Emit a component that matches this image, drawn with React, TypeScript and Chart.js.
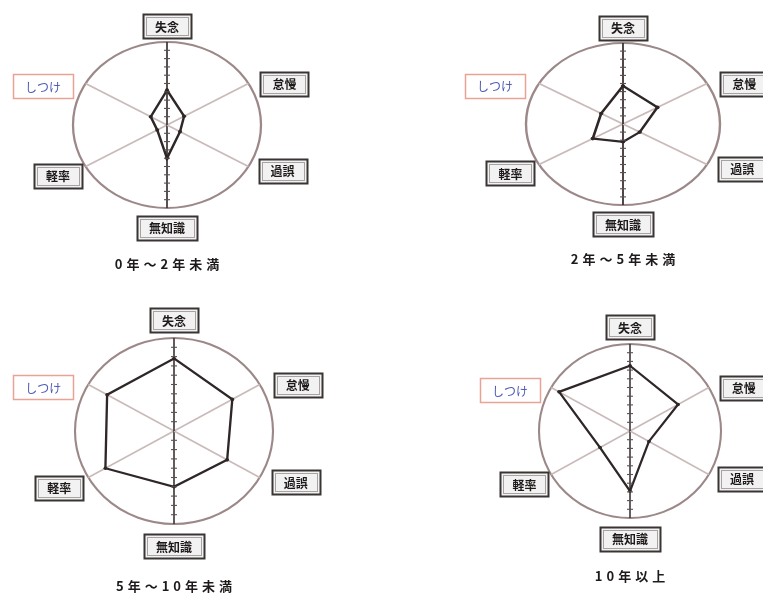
import React, { useEffect, useRef } from 'react';
import { Chart, registerables } from 'chart.js';

Chart.register(...registerables);

// ---- data ----
const categories = ['失念', '怠慢', '過誤', '無知識', '軽率', 'しつけ'];
const panelTitles = ['0年～2年未満', '2年～5年未満', '5年～10年未満', '10年以上'];
const values0to2 = [4.2, 2.1, 1.6, 4.0, 1.2, 2.0];
const values2to5 = [4.7, 4.1, 2.0, 2.2, 3.6, 2.6];
const values5to10 = [7.8, 6.8, 6.2, 6.0, 8.0, 7.8];
const values10plus = [7.5, 6.1, 2.4, 6.9, 3.8, 9.0];
const scaleMax = 10;
const tickStep = 1;
const highlightedCategory = 'しつけ';

// ---- layout (page px) ----
const W = 763;
const H = 593;
const PANELS = [
  { values: values0to2, title: panelTitles[0], cx: 167, cy: 125, ry: 83, rx: 94 },
  { values: values2to5, title: panelTitles[1], cx: 623, cy: 124, ry: 81, rx: 97 },
  { values: values5to10, title: panelTitles[2], cx: 174, cy: 431, ry: 93, rx: 99 },
  { values: values10plus, title: panelTitles[3], cx: 630, cy: 431, ry: 87, rx: 91 },
];
// label box centres, in units of the ellipse radii
const LABEL_OFFSETS: [number, number][] = [
  [0, -1.19],
  [1.25, -0.5],
  [1.23, 0.55],
  [0, 1.24],
  [-1.16, 0.61],
  [-1.32, -0.47],
];
const TITLE_OFFSET = 1.67;

const FONT = '"Noto Sans CJK JP", "Noto Sans", sans-serif';

const ellipsePlugin = {
  id: 'ellipse',
  beforeDraw(chart: any, _args: any, opts: any) {
    const sc = chart.scales.r;
    const ctx = chart.ctx;
    ctx.save();
    ctx.translate(sc.xCenter, 0);
    ctx.scale(opts.stretch, 1);
    ctx.translate(-sc.xCenter, 0);
  },
  afterDraw(chart: any, _args: any, opts: any) {
    const ctx = chart.ctx;
    ctx.restore();
    const sc = chart.scales.r;
    const cx = sc.xCenter;
    const cy = sc.yCenter;
    const ry = sc.drawingArea;
    const rx = ry * opts.stretch;

    // tick dashes along the vertical axis
    ctx.save();
    ctx.strokeStyle = '#5a5050';
    ctx.lineWidth = 1.1;
    for (let v = tickStep; v < scaleMax; v += tickStep) {
      const d = sc.getDistanceFromCenterForValue(v);
      for (const sgn of [-1, 1]) {
        ctx.beginPath();
        ctx.moveTo(cx - 3, cy + sgn * d);
        ctx.lineTo(cx + 3, cy + sgn * d);
        ctx.stroke();
      }
    }
    ctx.restore();

    // category label boxes
    const labels: string[] = chart.data.labels;
    labels.forEach((lab, i) => {
      const [nx, ny] = LABEL_OFFSETS[i];
      const x = cx + nx * rx;
      const y = cy + ny * ry;
      const hl = lab === highlightedCategory;
      ctx.save();
      ctx.font = (hl ? '' : 'bold ') + '12px ' + FONT;
      const tw = ctx.measureText(lab).width;
      const bw = tw + 24;
      const bh = 24;
      const bx = Math.round(x - bw / 2) + 0.5;
      const by = Math.round(y - bh / 2) + 0.5;
      if (hl) {
        ctx.fillStyle = '#ffffff';
        ctx.fillRect(bx, by, bw, bh);
        ctx.strokeStyle = '#e7a394';
        ctx.lineWidth = 1.5;
        ctx.strokeRect(bx, by, bw, bh);
        ctx.fillStyle = '#4c5ab4';
      } else {
        ctx.fillStyle = '#f3f2f2';
        ctx.fillRect(bx, by, bw, bh);
        ctx.strokeStyle = '#3a3535';
        ctx.lineWidth = 2;
        ctx.strokeRect(bx, by, bw, bh);
        ctx.strokeStyle = '#a8a2a2';
        ctx.lineWidth = 1;
        ctx.strokeRect(bx + 3, by + 3, bw - 6, bh - 6);
        ctx.fillStyle = '#1e1a1a';
      }
      ctx.textAlign = 'center';
      ctx.textBaseline = 'middle';
      ctx.fillText(lab, x, y + 1);
      ctx.restore();
    });

    // panel title
    ctx.save();
    ctx.font = 'bold 13px ' + FONT;
    (ctx as any).letterSpacing = '4px';
    ctx.fillStyle = '#1e1a1a';
    ctx.textAlign = 'center';
    ctx.textBaseline = 'middle';
    ctx.fillText(opts.title, cx + 2, cy + TITLE_OFFSET * ry);
    ctx.restore();
  },
};

type Panel = (typeof PANELS)[number];

function RadarPanel({ panel }: { panel: Panel }) {
  const ref = useRef<HTMLCanvasElement>(null);
  useEffect(() => {
    const { cx, cy, ry, rx } = panel;
    const chart = new Chart(ref.current as HTMLCanvasElement, {
      type: 'radar',
      data: {
        labels: categories,
        datasets: [
          {
            data: panel.values,
            borderColor: '#2f2727',
            borderWidth: 2.2,
            fill: false,
            pointRadius: 1.8,
            pointBackgroundColor: '#2f2727',
            pointBorderWidth: 0,
            clip: false,
          } as any,
        ],
      },
      options: {
        responsive: false,
        animation: false,
        devicePixelRatio: 1,
        events: [],
        layout: {
          padding: { left: cx - ry, right: W - cx - ry, top: cy - ry, bottom: H - cy - ry },
        },
        elements: { line: { tension: 0 } },
        plugins: {
          legend: { display: false },
          tooltip: { enabled: false },
          title: { display: false },
          ellipse: { stretch: rx / ry, title: panel.title },
        } as any,
        scales: {
          r: {
            min: 0,
            max: scaleMax,
            ticks: { display: false, stepSize: tickStep },
            pointLabels: { display: false },
            grid: {
              circular: true,
              lineWidth: 2,
              color: (c: any) => (c.tick && c.tick.value === scaleMax ? '#9c8888' : 'rgba(0,0,0,0)'),
            },
            angleLines: {
              lineWidth: 1.5,
              color: (c: any) => (c.index % 3 === 0 ? '#3b3333' : '#cbbaba'),
            },
          },
        },
      } as any,
      plugins: [ellipsePlugin],
    });
    return () => chart.destroy();
  }, [panel]);
  return (
    <canvas
      ref={ref}
      width={W}
      height={H}
      style={{ position: 'absolute', left: 0, top: 0, width: W, height: H }}
    />
  );
}

export default function App() {
  return (
    <div style={{ position: 'absolute', left: 0, top: 0, width: W, height: H, background: '#ffffff', overflow: 'hidden' }}>
      {PANELS.map((p, i) => (
        <RadarPanel key={i} panel={p} />
      ))}
    </div>
  );
}
